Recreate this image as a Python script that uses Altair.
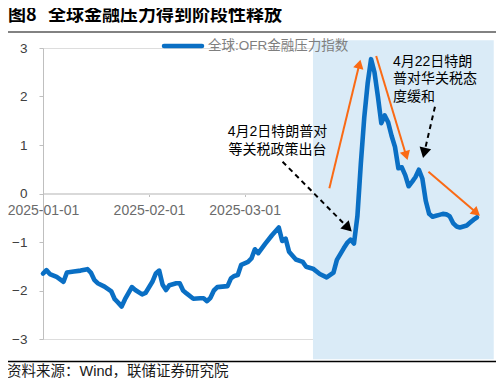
import math
import altair as alt
import pandas as pd

# ---------------- data ----------------
dates = [
    "2025-01-01", "2025-01-02", "2025-01-03", "2025-01-05", "2025-01-07", "2025-01-08",
    "2025-01-10", "2025-01-12", "2025-01-14", "2025-01-15", "2025-01-16", "2025-01-17",
    "2025-01-19", "2025-01-21", "2025-01-22", "2025-01-23", "2025-01-24", "2025-01-25",
    "2025-01-27", "2025-01-28", "2025-01-30", "2025-01-31", "2025-02-02", "2025-02-03",
    "2025-02-04", "2025-02-05", "2025-02-06", "2025-02-07", "2025-02-09", "2025-02-10",
    "2025-02-11", "2025-02-12", "2025-02-14", "2025-02-16", "2025-02-17", "2025-02-18",
    "2025-02-19", "2025-02-20", "2025-02-21", "2025-02-24", "2025-02-25", "2025-02-26",
    "2025-02-27", "2025-02-28", "2025-03-02", "2025-03-03", "2025-03-04", "2025-03-05",
    "2025-03-07", "2025-03-09", "2025-03-11", "2025-03-12", "2025-03-13", "2025-03-14",
    "2025-03-16", "2025-03-18", "2025-03-19", "2025-03-21", "2025-03-23", "2025-03-25",
    "2025-03-27", "2025-03-28", "2025-03-30", "2025-03-31", "2025-04-01", "2025-04-02",
    "2025-04-03", "2025-04-04", "2025-04-05", "2025-04-06", "2025-04-07", "2025-04-08",
    "2025-04-09", "2025-04-10", "2025-04-11", "2025-04-12", "2025-04-13", "2025-04-14",
    "2025-04-15", "2025-04-16", "2025-04-17", "2025-04-18", "2025-04-19", "2025-04-20",
    "2025-04-21", "2025-04-22", "2025-04-23", "2025-04-24", "2025-04-25", "2025-04-26",
    "2025-04-27", "2025-04-28", "2025-04-29", "2025-04-30", "2025-05-01", "2025-05-02",
    "2025-05-03", "2025-05-04", "2025-05-05", "2025-05-06", "2025-05-07", "2025-05-08",
]
values = [
    -1.65, -1.58, -1.66, -1.72, -1.82, -1.63,
    -1.61, -1.59, -1.56, -1.63, -1.78, -1.85,
    -1.92, -2.02, -2.18, -2.25, -2.33, -2.18,
    -1.93, -1.99, -2.08, -2.05, -1.82, -1.65,
    -1.59, -1.88, -1.99, -1.89, -1.85, -1.85,
    -2.00, -2.06, -2.17, -2.16, -2.16, -2.22,
    -2.15, -2.00, -1.93, -1.91, -1.75, -1.70,
    -1.68, -1.47, -1.41, -1.34, -1.15, -1.23,
    -1.04, -0.86, -0.70, -0.98, -0.93, -1.20,
    -1.36, -1.41, -1.51, -1.55, -1.66, -1.73,
    -1.63, -1.37, -1.13, -1.02, -0.95, -1.03,
    -0.47, 0.61, 1.56, 2.27, 2.77, 2.50,
    2.00, 1.45, 1.61, 1.47, 1.19, 0.96,
    0.52, 0.54, 0.38, 0.15, 0.24, 0.34,
    0.49, 0.31, -0.15, -0.42, -0.48, -0.46,
    -0.44, -0.42, -0.43, -0.47, -0.61, -0.68,
    -0.70, -0.68, -0.66, -0.60, -0.54, -0.49,
]
series_name = "全球:OFR金融压力指数"
tick_dates = ["2025-01-01", "2025-02-01", "2025-03-01", "2025-04-01", "2025-05-01"]
y_ticks = [-3, -2, -1, 0, 1, 2, 3]

title_num = "图8"
title_text = "全球金融压力得到阶段性释放"
source_text = "资料来源：Wind，联储证券研究院"
note1_lines = ["4月2日特朗普对", "等关税政策出台"]
note2_lines = ["4月22日特朗", "普对华关税态", "度缓和"]

# ---------------- layout ----------------
W, H = 434, 291
X_START = pd.Timestamp("2025-01-01")
X_END = pd.Timestamp("2025-05-08")
NDAYS = (X_END - X_START).days
PPD = W / NDAYS          # px per day
PPU = H / 6.0            # px per unit


def ms(day):
    return int((X_START + pd.to_timedelta(day, unit="D")).value // 10**6)


def dt(s):
    t = pd.Timestamp(s)
    return alt.DateTime(year=t.year, month=t.month, date=t.day, utc=True)


x_scale = alt.Scale(type="utc", domain=[dt("2025-01-01"), dt("2025-05-08")])
y_scale = alt.Scale(domain=[-3, 3], nice=False, zero=False)

x_axis = alt.Axis(values=[dt(s) for s in tick_dates], format="%Y-%m-%d",
                  title=None, grid=False, labelFont="Liberation Sans",
                  labelFontSize=14, labelColor="#6B6B6B",
                  domainColor="#D9D9D9", domainWidth=2,
                  tickColor="#BFBFBF", tickSize=3, labelPadding=7,
                  offset=-H / 2, labelOverlap=False, labelFlush=False)
y_axis = alt.Axis(values=y_ticks, title=None, grid=False,
                  labelFont="Liberation Sans", labelFontSize=13.5,
                  labelColor="#404040", domainColor="#BFBFBF",
                  tickColor="#BFBFBF", tickSize=4, labelPadding=12)

df = pd.DataFrame({"date": dates, "value": values})

# annotation anchors in data coordinates (day offset from 2025-01-01, value)
shade = {"d0": 79.0, "d1": 131.9, "v0": 3.16, "v1": -3.42}
orange_arrows = [((83.8, 0.107), (93.0, 2.79)),
                 ((97.5, 2.835), (106.8, 0.66)),
                 ((112.8, 0.449), (128.2, -0.48))]
black_arrows = [((70.1, 0.656), (90.7, -0.81)),
                ((114.7, 1.790), (111.1, 0.70))]
note1_anchor = (68.6, [1.27, 0.89])
note2_anchor = (102.4, [2.72, 2.355, 1.995])


def arrow_frames(arrows, head_size):
    r = math.sqrt(head_size) / 2
    tipoff = 2 * math.tan(math.pi / 6) * r
    shafts, heads = [], []
    for (d0, v0), (d1, v1) in arrows:
        x0, y0 = d0 * PPD, (3 - v0) * PPU
        x1, y1 = d1 * PPD, (3 - v1) * PPU
        dx, dy = x1 - x0, y1 - y0
        L = math.hypot(dx, dy)
        ux, uy = dx / L, dy / L
        cx, cy = x1 - ux * tipoff, y1 - uy * tipoff
        cd, cv = cx / PPD, 3 - cy / PPU
        ang = math.degrees(math.atan2(dx, -dy)) % 360
        shafts.append({"t0": ms(d0), "v0": v0, "t1": ms(cd), "v1": cv})
        heads.append({"t": ms(cd), "v": cv, "ang": ang})
    return pd.DataFrame(shafts), pd.DataFrame(heads)


FONT = "Liberation Sans, Noto Sans CJK SC"
BLUE = "#0A6FC4"
ORANGE = "#FA6A15"


def X(f):
    return alt.X(f, scale=x_scale, axis=x_axis)


def Y(f):
    return alt.Y(f, scale=y_scale, axis=y_axis)


shade_df = pd.DataFrame([{"t0": ms(shade["d0"]), "t1": ms(shade["d1"]),
                          "v0": shade["v0"], "v1": shade["v1"]}])
rect = alt.Chart(shade_df).mark_rect(color="#DAEBF7").encode(
    x=X("t0:T"), x2="t1:T", y=Y("v0:Q"), y2="v1:Q")

line = alt.Chart(df).mark_line(color=BLUE, strokeWidth=4.6, strokeJoin="round",
                               strokeCap="round").encode(
    x=X("date:T"), y=Y("value:Q"))

o_shaft, o_head = arrow_frames(orange_arrows, 110)
b_shaft, b_head = arrow_frames(black_arrows, 140)

o_rules = alt.Chart(o_shaft).mark_rule(color=ORANGE, strokeWidth=2).encode(
    x=X("t0:T"), x2="t1:T", y=Y("v0:Q"), y2="v1:Q")
o_heads = alt.Chart(o_head).mark_point(shape="triangle-up", filled=True, opacity=1,
                                       color=ORANGE, size=110).encode(
    x=X("t:T"), y=Y("v:Q"), angle=alt.Angle("ang:Q", scale=None))
b_rules = alt.Chart(b_shaft).mark_rule(color="black", strokeWidth=2,
                                       strokeDash=[5, 4]).encode(
    x=X("t0:T"), x2="t1:T", y=Y("v0:Q"), y2="v1:Q")
b_heads = alt.Chart(b_head).mark_point(shape="triangle-up", filled=True, opacity=1,
                                       color="black", size=140).encode(
    x=X("t:T"), y=Y("v:Q"), angle=alt.Angle("ang:Q", scale=None))

n1 = pd.DataFrame({"txt": note1_lines, "t": [ms(note1_anchor[0])] * len(note1_lines),
                   "v": note1_anchor[1]})
n2 = pd.DataFrame({"txt": note2_lines, "t": [ms(note2_anchor[0])] * len(note2_lines),
                   "v": note2_anchor[1]})
note1 = alt.Chart(n1).mark_text(font=FONT, fontSize=14, color="black",
                                align="center", baseline="middle").encode(
    x=X("t:T"), y=Y("v:Q"), text="txt:N")
note2 = alt.Chart(n2).mark_text(font=FONT, fontSize=14, color="black",
                                align="left", baseline="middle").encode(
    x=X("t:T"), y=Y("v:Q"), text="txt:N")

# legend
leg_df = pd.DataFrame({"name": [series_name]})
leg_line = alt.Chart(leg_df).mark_rule(color=BLUE, strokeWidth=4.5,
                                       strokeCap="round").encode(
    x=alt.value(121), x2=alt.value(159), y=alt.value(-2))
leg_text = alt.Chart(leg_df).mark_text(font=FONT, fontSize=13.5, color="#7F7F7F",
                                       align="left", baseline="middle").encode(
    x=alt.value(165), y=alt.value(-2), text="name:N")

# title, source and frame lines
title1 = alt.Chart(pd.DataFrame({"t": [title_num]})).mark_text(
    font="Noto Sans CJK SC", fontSize=18, fontWeight="bold", color="black",
    align="left", baseline="middle").encode(
    x=alt.value(-35), y=alt.value(-32), text="t:N")
title2 = alt.Chart(pd.DataFrame({"t": [title_text]})).mark_text(
    font="Noto Sans CJK SC", fontSize=18, fontWeight="bold", color="black",
    align="left", baseline="middle").encode(
    x=alt.value(5), y=alt.value(-32), text="t:N")
source = alt.Chart(pd.DataFrame({"t": [source_text]})).mark_text(
    font=FONT, fontSize=14.5, color="#1a1a1a", align="left",
    baseline="middle").encode(x=alt.value(-36), y=alt.value(324), text="t:N")
top_rule = alt.Chart(pd.DataFrame({"a": [0]})).mark_rule(
    color="#595959", strokeWidth=1.5).encode(
    x=alt.value(-38), x2=alt.value(454), y=alt.value(-16))
bot_rule = alt.Chart(pd.DataFrame({"a": [0]})).mark_rule(
    color="black", strokeWidth=1.5).encode(
    x=alt.value(-38), x2=alt.value(454), y=alt.value(313.5))

chart = alt.layer(
    rect, line, o_rules, o_heads, b_rules, b_heads, note1, note2,
    leg_line, leg_text, title1, title2, source, top_rule, bot_rule,
).properties(
    width=W, height=H,
    padding={"left": 35, "top": 40, "right": 19, "bottom": 39},
    autosize=alt.AutoSizeParams(type="none"),
).configure_view(stroke=None).configure(background="white")

chart.save("out.html", embed_options={"renderer": "svg", "actions": False})
